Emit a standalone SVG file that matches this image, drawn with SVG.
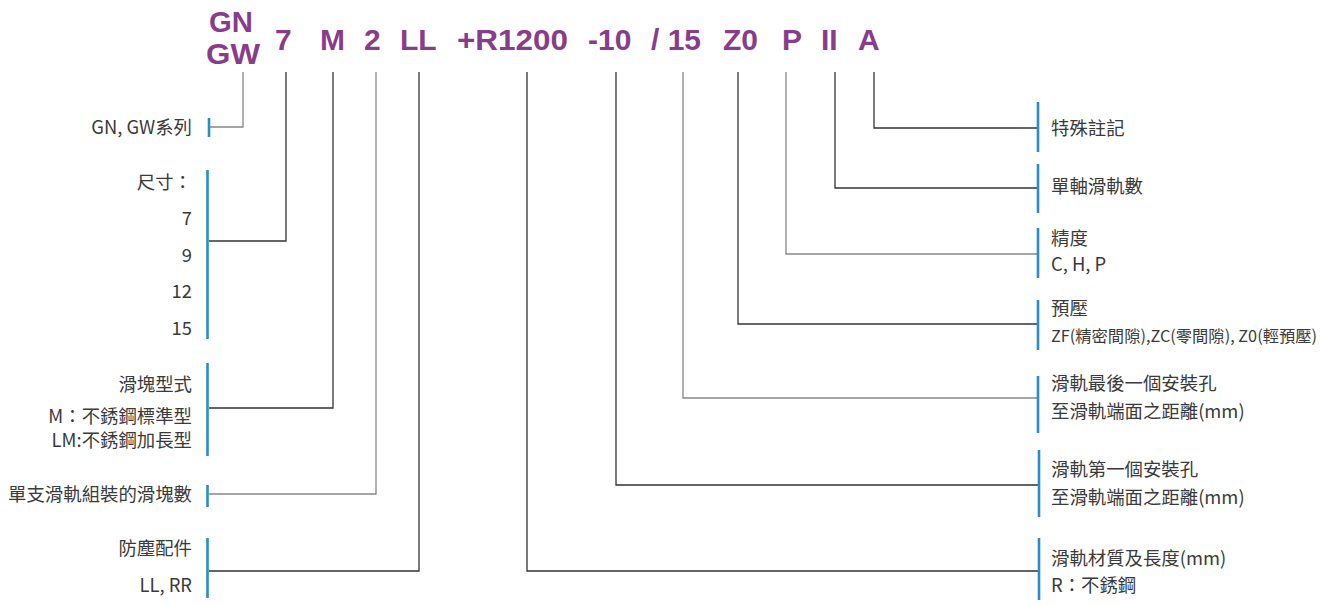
<svg xmlns="http://www.w3.org/2000/svg" width="1321" height="605" viewBox="0 0 1321 605">
<style>
.code{font-family:"Liberation Sans",Arial,sans-serif;font-weight:bold;font-size:30px;fill:#883c8c}
.t{font-family:"Noto Sans CJK TC","Noto Sans",sans-serif;font-size:18.4px;fill:#3a3a3a}
.r{text-anchor:end}
.bar{stroke:#2b8ccc;stroke-width:2.6;fill:none}
.c{fill:none;stroke:#333;stroke-width:1.3}
.g{stroke:#888}
</style>
<rect width="1321" height="605" fill="#fff"/>
<g id="code">
<text class="code" x="209" y="32" textLength="44" lengthAdjust="spacingAndGlyphs">GN</text>
<text class="code" x="206" y="64" textLength="54" lengthAdjust="spacingAndGlyphs">GW</text>
<text class="code" x="275" y="50">7</text>
<text class="code" x="320" y="50">M</text>
<text class="code" x="364" y="50">2</text>
<text class="code" x="400" y="50">LL</text>
<text class="code" x="457" y="50" textLength="111" lengthAdjust="spacingAndGlyphs">+R1200</text>
<text class="code" x="588" y="50">-10</text>
<text class="code" x="651" y="50">/ 15</text>
<text class="code" x="723" y="50">Z0</text>
<text class="code" x="782" y="50">P</text>
<text class="code" x="821" y="50">II</text>
<text class="code" x="858" y="50">A</text>
</g>
<g id="connectors">
<polyline class="c g" points="243,72 243,127 210,127"/>
<polyline class="c" points="286,72 286,241 209,241"/>
<polyline class="c" points="333,72 333,408 209,408"/>
<polyline class="c g" points="376,72 376,494 209,494"/>
<polyline class="c" points="419,72 419,571 209,571"/>
<polyline class="c" points="527,72 527,571 1039,571"/>
<polyline class="c" points="616,72 616,485 1039,485"/>
<polyline class="c g" points="683,72 683,398 1039,398"/>
<polyline class="c" points="738,72 738,324 1039,324"/>
<polyline class="c g" points="786,72 786,254 1039,254"/>
<polyline class="c" points="835,72 835,188 1039,188"/>
<polyline class="c" points="874,72 874,128 1039,128"/>
</g>
<g id="series">
<line class="bar" x1="209" y1="118" x2="209" y2="137"/>
<text class="t r" x="192" y="134">GN, GW系列</text>
</g>
<g id="size">
<line class="bar" x1="207.5" y1="170" x2="207.5" y2="339"/>
<text class="t r" x="192" y="189">尺寸：</text>
<text class="t r" x="192" y="225">7</text>
<text class="t r" x="192" y="262">9</text>
<text class="t r" x="192" y="298">12</text>
<text class="t r" x="192" y="335">15</text>
</g>
<g id="block-type">
<line class="bar" x1="207.5" y1="363" x2="207.5" y2="456"/>
<text class="t r" x="192" y="391">滑塊型式</text>
<text class="t r" x="192" y="423">M：不銹鋼標準型</text>
<text class="t r" x="192" y="447">LM:不銹鋼加長型</text>
</g>
<g id="block-count">
<line class="bar" x1="207.5" y1="485" x2="207.5" y2="507"/>
<text class="t r" x="192" y="501">單支滑軌組裝的滑塊數</text>
</g>
<g id="dust">
<line class="bar" x1="207.5" y1="538" x2="207.5" y2="598"/>
<text class="t r" x="192" y="555">防塵配件</text>
<text class="t r" x="192" y="592">LL, RR</text>
</g>
<g id="special">
<line class="bar" x1="1038" y1="102" x2="1038" y2="152"/>
<text class="t" x="1051" y="135">特殊註記</text>
</g>
<g id="rail-count">
<line class="bar" x1="1038" y1="164" x2="1038" y2="213"/>
<text class="t" x="1051" y="193">單軸滑軌數</text>
</g>
<g id="accuracy">
<line class="bar" x1="1038" y1="228" x2="1038" y2="278"/>
<text class="t" x="1051" y="245">精度</text>
<text class="t" x="1051" y="271">C, H, P</text>
</g>
<g id="preload">
<line class="bar" x1="1038" y1="300" x2="1038" y2="350"/>
<text class="t" x="1051" y="315">預壓</text>
<text class="t" x="1051" y="342" style="font-size:16.4px" textLength="266" lengthAdjust="spacingAndGlyphs">ZF(精密間隙),ZC(零間隙), Z0(輕預壓)</text>
</g>
<g id="last-hole">
<line class="bar" x1="1038" y1="376" x2="1038" y2="433"/>
<text class="t" x="1051" y="390">滑軌最後一個安裝孔</text>
<text class="t" x="1051" y="418">至滑軌端面之距離(mm)</text>
</g>
<g id="first-hole">
<line class="bar" x1="1039" y1="450" x2="1039" y2="517"/>
<text class="t" x="1051" y="476">滑軌第一個安裝孔</text>
<text class="t" x="1051" y="504">至滑軌端面之距離(mm)</text>
</g>
<g id="rail-material">
<line class="bar" x1="1039" y1="538" x2="1039" y2="600"/>
<text class="t" x="1051" y="565">滑軌材質及長度(mm)</text>
<text class="t" x="1051" y="592">R：不銹鋼</text>
</g>
</svg>
